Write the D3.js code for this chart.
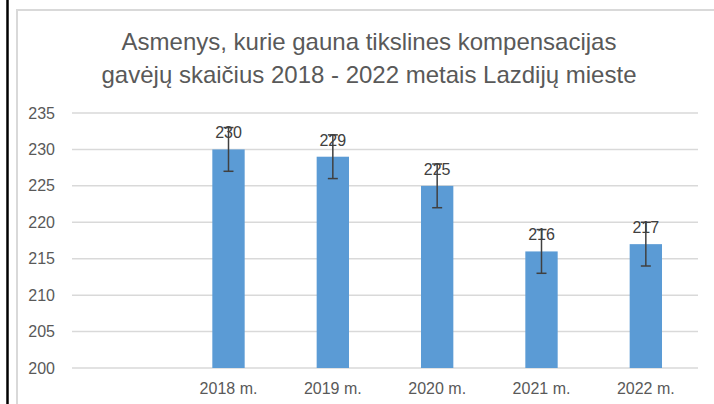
<!DOCTYPE html>
<html>
<head>
<meta charset="utf-8">
<script src="https://cdn.jsdelivr.net/npm/d3@7"></script>
<style>
  body { margin: 0; background: #fff; }
  svg { display: block; font-family: "Liberation Sans", Arial, sans-serif; }
</style>
</head>
<body>
<svg id="chart" width="714" height="404"></svg>
<script>
// data
const titleLines = ["Asmenys, kurie gauna tikslines kompensacijas",
                    "gavėjų skaičius 2018 - 2022 metais Lazdijų mieste"];
const categories = ["", "2018 m.", "2019 m.", "2020 m.", "2021 m.", "2022 m."];
const values = [null, 230, 229, 225, 216, 217];
const errorAmount = [null, 3, 3, 3, 3, 3];
const yTicks = [200, 205, 210, 215, 220, 225, 230, 235];

const svg = d3.select("#chart");
const margin = {left: 72, right: 16, top: 113, bottom: 36};
const width = 714, height = 404;

// frame lines
svg.append("line")
    .attr("x1", 7.5).attr("x2", 7.5).attr("y1", 0).attr("y2", height)
    .attr("stroke", "#000").attr("stroke-width", 2.5);
svg.append("rect")
    .attr("x", 17).attr("y", 10).attr("width", 720).attr("height", 420)
    .attr("fill", "none").attr("stroke", "#d9d9d9").attr("stroke-width", 2);

// title
svg.append("g").selectAll("text")
  .data(titleLines)
  .join("text")
    .attr("x", 369)
    .attr("y", (d, i) => 50 + i * 33)
    .attr("text-anchor", "middle")
    .attr("fill", "#595959")
    .style("font-size", "24px")
    .text(d => d);

const xScale = d3.scaleBand()
    .domain(categories.map((d, i) => i))
    .range([margin.left, width - margin.right])
    .paddingInner(0.69)
    .paddingOuter(0.345);

const yScale = d3.scaleLinear()
    .domain([200, 235])
    .range([height - margin.bottom, margin.top]);

// gridlines
svg.append("g").selectAll("line")
  .data(yTicks)
  .join("line")
    .attr("x1", margin.left).attr("x2", width - margin.right)
    .attr("y1", d => yScale(d)).attr("y2", d => yScale(d))
    .attr("stroke", "#d9d9d9").attr("stroke-width", 1.5);

// y axis
const yAxis = d3.axisLeft(yScale).tickValues(yTicks).tickSize(0).tickPadding(0);
const gY = svg.append("g")
    .attr("transform", "translate(" + 55 + ",0)")
    .call(yAxis);
gY.select(".domain").remove();
gY.selectAll("text")
    .attr("fill", "#595959")
    .style("font-size", "16px")
    .style("font-family", "Liberation Sans, Arial, sans-serif");

// x axis
const xAxis = d3.axisBottom(xScale).tickFormat(i => categories[i]).tickSize(0).tickPadding(0);
const gX = svg.append("g")
    .attr("transform", "translate(0," + (height - margin.bottom) + ")")
    .call(xAxis);
gX.select(".domain").remove();
gX.selectAll("text")
    .attr("y", 15)
    .attr("fill", "#595959")
    .style("font-size", "16px")
    .style("font-family", "Liberation Sans, Arial, sans-serif");

const data = categories.map((c, i) => ({i: i, v: values[i], e: errorAmount[i]}))
    .filter(d => d.v !== null);

// bars
svg.append("g").selectAll("rect")
  .data(data)
  .join("rect")
    .attr("x", d => xScale(d.i))
    .attr("width", xScale.bandwidth())
    .attr("y", d => yScale(d.v))
    .attr("height", d => yScale(200) - yScale(d.v))
    .attr("fill", "#5b9bd5");

// data labels
svg.append("g").selectAll("text")
  .data(data)
  .join("text")
    .attr("x", d => xScale(d.i) + xScale.bandwidth() / 2)
    .attr("y", d => yScale(d.v) - 11)
    .attr("text-anchor", "middle")
    .attr("fill", "#404040")
    .style("font-size", "16px")
    .text(d => d.v);

// error bars
const err = svg.append("g")
    .attr("stroke", "#404040")
    .attr("stroke-width", 1.5);
const cx = d => xScale(d.i) + xScale.bandwidth() / 2;
err.selectAll(".stem")
  .data(data)
  .join("line")
    .attr("class", "stem")
    .attr("x1", cx).attr("x2", cx)
    .attr("y1", d => yScale(d.v + d.e)).attr("y2", d => yScale(d.v - d.e));
err.selectAll(".cap-top")
  .data(data)
  .join("line")
    .attr("class", "cap-top")
    .attr("x1", d => cx(d) - 5).attr("x2", d => cx(d) + 5)
    .attr("y1", d => yScale(d.v + d.e)).attr("y2", d => yScale(d.v + d.e));
err.selectAll(".cap-bottom")
  .data(data)
  .join("line")
    .attr("class", "cap-bottom")
    .attr("x1", d => cx(d) - 5).attr("x2", d => cx(d) + 5)
    .attr("y1", d => yScale(d.v - d.e)).attr("y2", d => yScale(d.v - d.e));
</script>
</body>
</html>
